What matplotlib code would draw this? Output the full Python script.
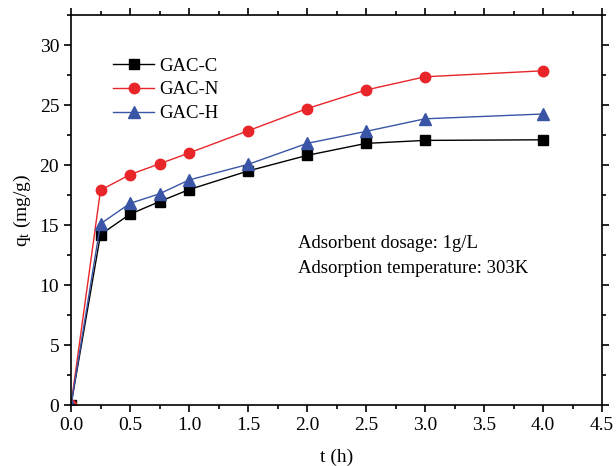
import numpy as np
import matplotlib
matplotlib.use("Agg")
import matplotlib.pyplot as plt
from matplotlib.ticker import MultipleLocator

plt.rcParams['font.family'] = ['Liberation Serif', 'DejaVu Serif']
plt.rcParams['mathtext.fontset'] = 'custom'
plt.rcParams['mathtext.rm'] = 'Liberation Serif'
plt.rcParams['mathtext.it'] = 'Liberation Serif:italic'

# adsorption time (h) and uptake q_t (mg/g)
t = [0, 0.25, 0.5, 0.75, 1.0, 1.5, 2.0, 2.5, 3.0, 4.0]
gac_c = [0, 14.2, 15.9, 16.95, 17.95, 19.5, 20.8, 21.8, 22.05, 22.1]
gac_n = [0, 17.9, 19.2, 20.1, 21.0, 22.85, 24.7, 26.25, 27.35, 27.85]
gac_h = [0, 15.1, 16.8, 17.6, 18.75, 20.05, 21.8, 22.8, 23.85, 24.25]

fig = plt.figure(figsize=(6.16, 4.66), dpi=100)
ax = fig.add_axes([71/616, 1 - 405/466, 531/616, 390/466])

ax.plot(t, gac_c, color='black', lw=1, marker='s', ms=6.5, label='GAC-C')
ax.plot(t, gac_n, color='#e8262a', lw=1, marker='o', ms=7.5, label='GAC-N')
ax.plot(t, gac_h, color='#3a55a5', lw=1, marker='^', ms=8, label='GAC-H')

ax.set_xlim(0, 4.5)
ax.set_ylim(0, 32.5)
ax.xaxis.set_major_locator(MultipleLocator(0.5))
ax.xaxis.set_minor_locator(MultipleLocator(0.25))
ax.yaxis.set_major_locator(MultipleLocator(5))
ax.yaxis.set_minor_locator(MultipleLocator(2.5))
ax.xaxis.set_major_formatter(matplotlib.ticker.FormatStrFormatter('%.1f'))
ax.tick_params(which='both', direction='out', top=True, right=True,
               labelsize=14, width=1.2)
ax.tick_params(which='major', length=5)
ax.tick_params(which='minor', length=3)
for s in ax.spines.values():
    s.set_linewidth(1.2)

ax.set_xlabel('t (h)', fontsize=14, labelpad=11)
ax.set_ylabel('q$_\\mathrm{t}$ (mg/g)', fontsize=14, labelpad=5)

ax.legend(loc='upper left', bbox_to_anchor=(0.065, 0.91), frameon=False,
          fontsize=13.5, handlelength=2.2, handletextpad=0.25, labelspacing=0.35,
          borderaxespad=0)

ax.text(1.92, 13.5, 'Adsorbent dosage: 1g/L', fontsize=13.5, va='center')
ax.text(1.92, 11.4, 'Adsorption temperature: 303K', fontsize=13.5, va='center')

fig.savefig('out.png', dpi=100)
